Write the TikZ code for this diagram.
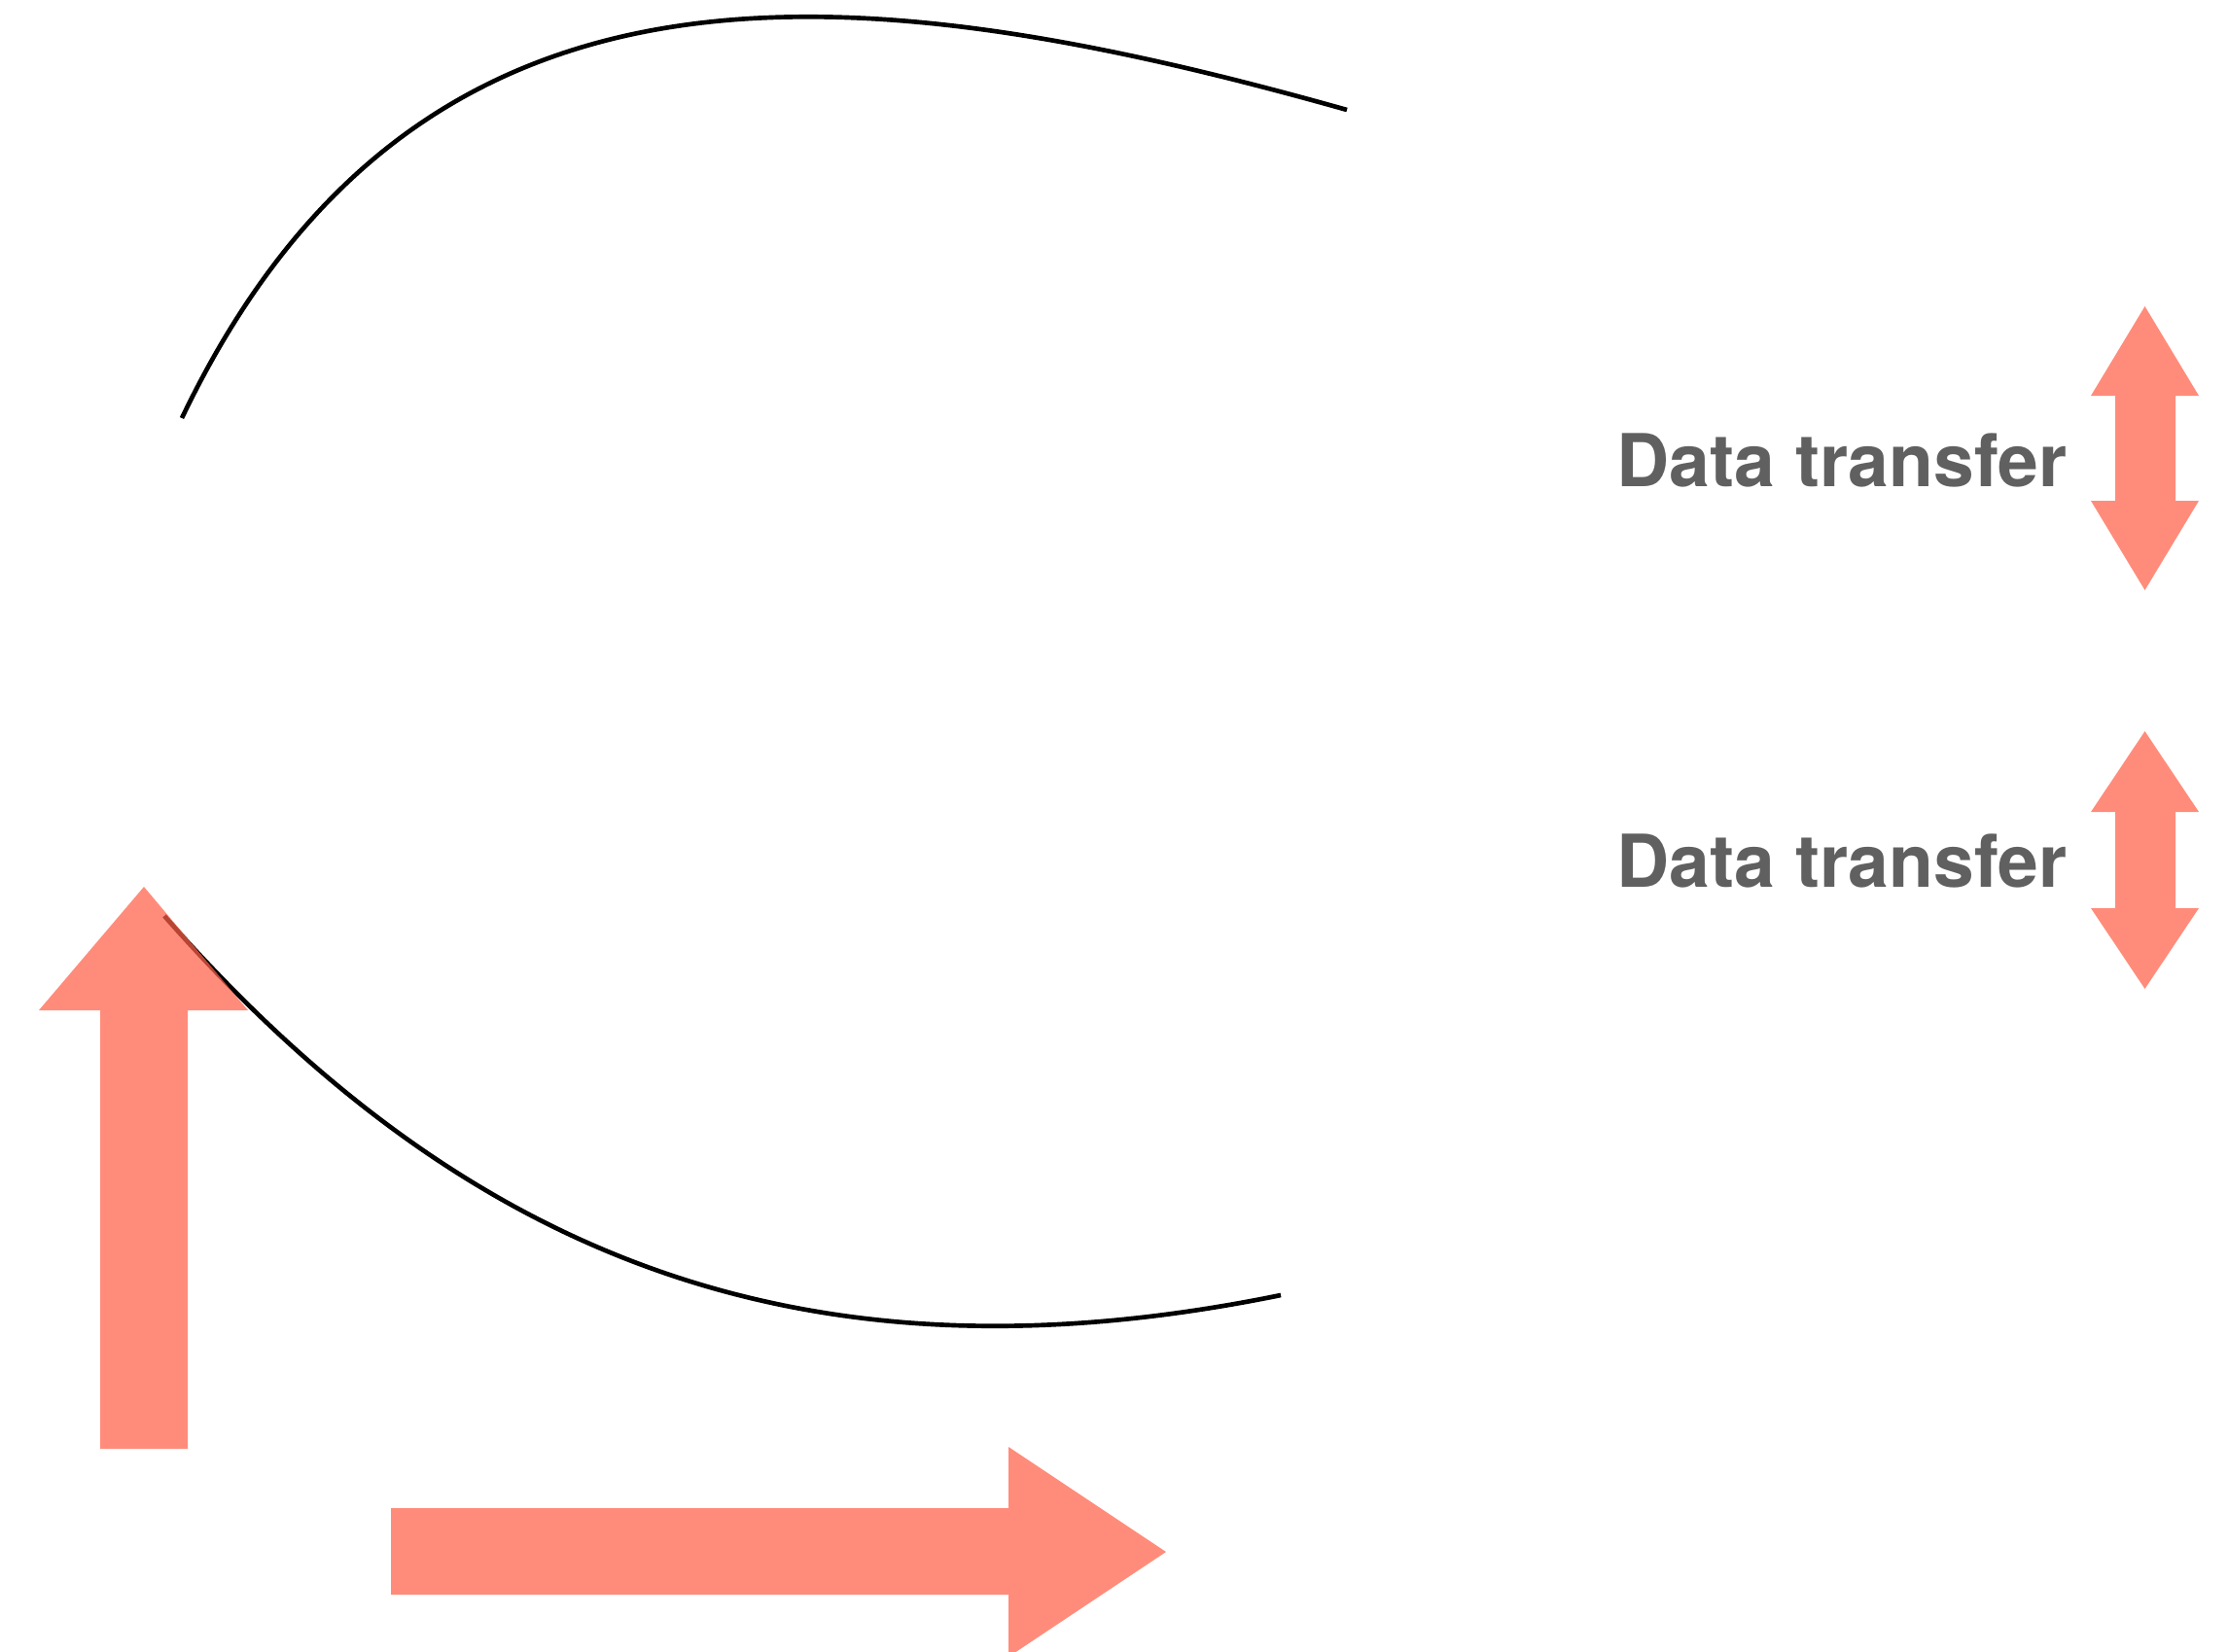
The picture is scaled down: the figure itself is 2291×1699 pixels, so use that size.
\documentclass[tikz,border=0pt]{standalone}
\usepackage{fontspec}
\newfontfamily\heros{TeX Gyre Heros}
\definecolor{salmon}{RGB}{255,96,72}
\definecolor{labelgray}{RGB}{96,96,96}
\tikzset{
  curve/.style={draw=black, line width=1.4pt, line cap=butt},
  bigarrow/.style={fill=salmon, fill opacity=0.72, draw=none},
  label/.style={inner sep=0pt, anchor=base west, text=labelgray, font=\heros\bfseries\fontsize{22.5pt}{27pt}\selectfont}
}
\begin{document}
\begin{tikzpicture}[x=0.3pt, y=-0.3pt]
\useasboundingbox (0,0) rectangle (2291,1699);
% curves
\coordinate (ta) at (187,430);
\coordinate (tb) at (1385,113);
\coordinate (ba) at (169,942);
\coordinate (bb) at (1317,1332);
\draw[curve] (ta) .. controls (424,-65) and (857,-36) .. (tb);
\draw[curve] (ba) .. controls (479,1294) and (827,1432) .. (bb);
% left upward arrow
\path[bigarrow] (148,912) -- (255,1039) -- (193,1039) -- (193,1490) -- (103,1490) -- (103,1039) -- (40,1039) -- cycle;
% bottom rightward arrow
\path[bigarrow] (402,1551) -- (1037,1551) -- (1037,1488) -- (1199,1596) -- (1037,1704) -- (1037,1640) -- (402,1640) -- cycle;
% right double arrows
\path[bigarrow] (2205.5,315) -- (2261,407) -- (2237,407) -- (2237,515) -- (2261,515) -- (2205.5,607) -- (2150,515) -- (2175,515) -- (2175,407) -- (2150,407) -- cycle;
\path[bigarrow] (2205.5,752) -- (2261,835) -- (2237,835) -- (2237,934) -- (2261,934) -- (2205.5,1017) -- (2150,934) -- (2175,934) -- (2175,835) -- (2150,835) -- cycle;
% labels
\node[label] (t1) at (1662,500) {Data transfer};
\node[label] (t2) at (1662,912) {Data transfer};
\end{tikzpicture}
\end{document}
